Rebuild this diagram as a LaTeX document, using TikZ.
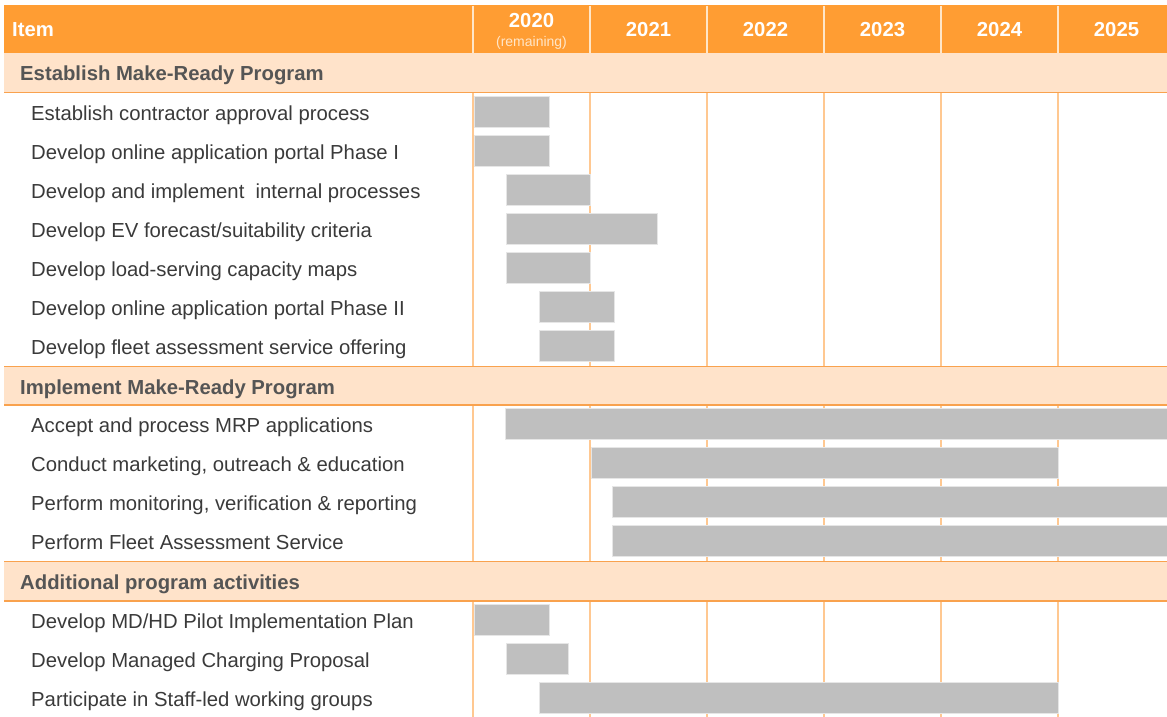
\documentclass[tikz,border=0pt]{standalone}
\usepackage{fontspec}
\setmainfont{Liberation Sans}
\definecolor{hdr}{HTML}{FF9D33}
\definecolor{hdrsep}{HTML}{FFE6C8}
\definecolor{bandfill}{HTML}{FFE3CA}
\definecolor{bandline}{HTML}{F9A24E}
\definecolor{gridc}{HTML}{FFC891}
\definecolor{barfill}{HTML}{BFBFBF}
\definecolor{barline}{HTML}{E6E6E6}
\definecolor{itemtext}{HTML}{3A3A3A}
\definecolor{sectext}{HTML}{555555}
\tikzset{
  itemlabel/.style={anchor=base west, inner sep=0pt, text=itemtext, font=\fontsize{20.3}{23}\selectfont},
  seclabel/.style={anchor=base west, inner sep=0pt, text=sectext, font=\fontsize{20.3}{23}\selectfont\bfseries},
  yearlabel/.style={anchor=base, inner sep=0pt, text=white, font=\fontsize{20.3}{23}\selectfont\bfseries},
  remlabel/.style={anchor=base, inner sep=0pt, text=hdrsep, font=\fontsize{14}{16}\selectfont},
  ganttbar/.style={anchor=north west, inner sep=0pt, outer sep=0pt, fill=barfill, draw=barline, line width=0.8pt, minimum height=31pt},
  gridline/.style={draw=gridc, line width=1.2pt},
  hdrline/.style={draw=hdrsep, line width=1.2pt},
  bandedge/.style={draw=bandline, line width=1.6pt},
}
\begin{document}
\begin{tikzpicture}[x=1pt,y=-1pt]
\useasboundingbox (0,0) rectangle (1167,717);
% grid lines in the rows
\foreach \x in {473,590,707,824,941,1058} \draw[gridline] (\x,53) -- (\x,717);
% header
\fill[hdr] (4,5) rectangle (1167,53);
\foreach \x in {473,590,707,824,941,1058} \draw[hdrline] (\x,6) -- (\x,53);
% section bands
\fill[bandfill] (4,53) rectangle (1167,92);
\draw[bandedge] (4,92.5) -- (1167,92.5);
\fill[bandfill] (4,366.5) rectangle (1167,405);
\draw[bandedge] (4,366.5) -- (1167,366.5);
\draw[bandedge] (4,405) -- (1167,405);
\fill[bandfill] (4,561.5) rectangle (1167,601);
\draw[bandedge] (4,561.5) -- (1167,561.5);
\draw[bandedge] (4,601) -- (1167,601);
% header texts
\node[yearlabel, anchor=base west] (hitem) at (12,37) {Item};
\node[yearlabel] (y2020) at (531.5,28) {2020};
\node[remlabel] (rem) at (531.5,47) {(remaining)};
\node[yearlabel] (y2021) at (648.5,37) {2021};
\node[yearlabel] (y2022) at (765.5,37) {2022};
\node[yearlabel] (y2023) at (882.5,37) {2023};
\node[yearlabel] (y2024) at (999.5,37) {2024};
\node[yearlabel] (y2025) at (1116.5,37) {2025};
% section labels
\node[seclabel] (s1) at (20,81) {Establish Make-Ready Program};
\node[seclabel] (s2) at (20,394) {Implement Make-Ready Program};
\node[seclabel] (s3) at (20,589) {Additional program activities};
% item labels
\node[itemlabel] (i1) at (31,120.5) {Establish contractor approval process};
\node[itemlabel] (i2) at (31,159.5) {Develop online application portal Phase I};
\node[itemlabel] (i3) at (31,198.5) {Develop and implement\ \ internal processes};
\node[itemlabel] (i4) at (31,237.5) {Develop EV forecast/suitability criteria};
\node[itemlabel] (i5) at (31,276.5) {Develop load-serving capacity maps};
\node[itemlabel] (i6) at (31,315.5) {Develop online application portal Phase II};
\node[itemlabel] (i7) at (31,354.5) {Develop fleet assessment service offering};
\node[itemlabel] (i8) at (31,432.5) {Accept and process MRP applications};
\node[itemlabel] (i9) at (31,471.5) {Conduct marketing, outreach \& education};
\node[itemlabel] (i10) at (31,510.5) {Perform monitoring, verification \& reporting};
\node[itemlabel] (i11) at (31,549.5) {Perform Fleet Assessment Service};
\node[itemlabel] (i12) at (31,628.5) {Develop MD/HD Pilot Implementation Plan};
\node[itemlabel] (i13) at (31,667.5) {Develop Managed Charging Proposal};
\node[itemlabel] (i14) at (31,706.5) {Participate in Staff-led working groups};
% bars
\node[ganttbar, minimum width=75pt] (b1) at (474,96) {};
\node[ganttbar, minimum width=75pt] (b2) at (474,135) {};
\node[ganttbar, minimum width=84pt] (b3) at (506,174) {};
\node[ganttbar, minimum width=151pt] (b4) at (506,213) {};
\node[ganttbar, minimum width=84pt] (b5) at (506,252) {};
\node[ganttbar, minimum width=75pt] (b6) at (539,291) {};
\node[ganttbar, minimum width=75pt] (b7) at (539,330) {};
\node[ganttbar, minimum width=670pt] (b8) at (505,408) {};
\node[ganttbar, minimum width=467pt] (b9) at (591,447) {};
\node[ganttbar, minimum width=563pt] (b10) at (612,486) {};
\node[ganttbar, minimum width=563pt] (b11) at (612,525) {};
\node[ganttbar, minimum width=75pt] (b12) at (474,604) {};
\node[ganttbar, minimum width=62pt] (b13) at (506,643) {};
\node[ganttbar, minimum width=519pt] (b14) at (539,682) {};
\end{tikzpicture}
\end{document}
